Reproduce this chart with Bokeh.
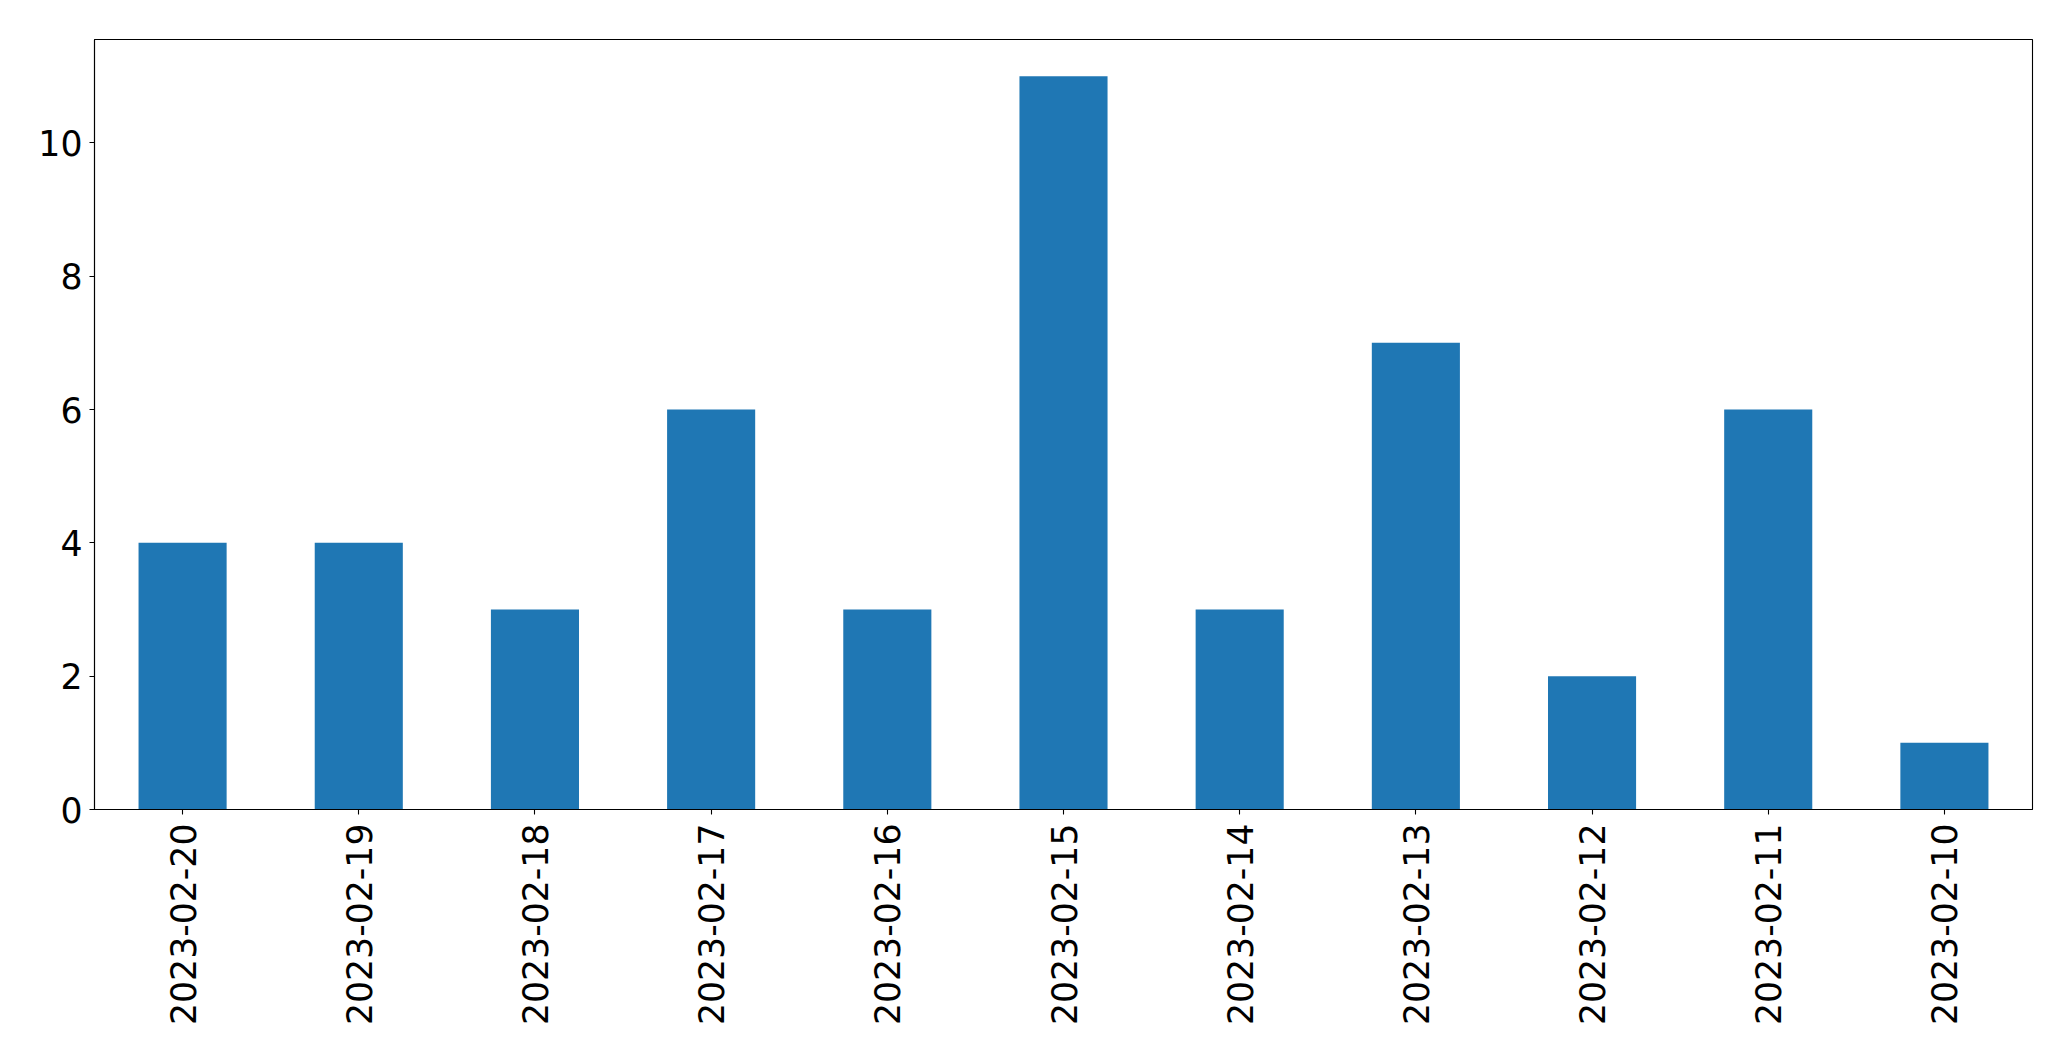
import math
from bokeh.plotting import figure
from bokeh.models import FactorRange, Range1d, ColumnDataSource, FixedTicker
from bokeh.embed import file_html
from bokeh.resources import INLINE

dates = ["2023-02-20", "2023-02-19", "2023-02-18", "2023-02-17", "2023-02-16",
         "2023-02-15", "2023-02-14", "2023-02-13", "2023-02-12", "2023-02-11",
         "2023-02-10"]
counts = [4, 4, 3, 6, 3, 11, 3, 7, 2, 6, 1]
y_ticks = [0, 2, 4, 6, 8, 10]

src = ColumnDataSource(dict(x=dates, top=counts))

p = figure(
    x_range=FactorRange(factors=dates, range_padding=0),
    y_range=Range1d(0, max(counts) * 1.05),
    width=2055, height=1045,
    output_backend="svg", toolbar_location=None,
    min_border_left=94, min_border_top=39, min_border_right=23, min_border_bottom=236,
)
p.vbar(x="x", top="top", width=0.5, source=src, fill_color="#1f77b4", line_color=None)

p.xgrid.visible = False
p.ygrid.visible = False
p.outline_line_color = "black"
p.outline_line_width = 1.1
p.background_fill_color = "white"
p.border_fill_color = "white"

for ax in (p.xaxis, p.yaxis):
    ax.axis_line_color = "black"
    ax.axis_line_width = 1.1
    ax.major_tick_line_color = "black"
    ax.major_tick_line_width = 1.1
    ax.major_tick_in = 0
    ax.major_tick_out = 5
    ax.minor_tick_line_color = None
    ax.major_label_text_font = "DejaVu Sans"
    ax.major_label_text_font_size = "34.7px"
    ax.major_label_text_color = "black"

p.yaxis.ticker = FixedTicker(ticks=y_ticks)
p.yaxis.major_label_standoff = 7
p.xaxis.major_label_orientation = math.pi / 2
p.xaxis.major_label_standoff = 9

open("out.html", "w").write(file_html(p, INLINE))
